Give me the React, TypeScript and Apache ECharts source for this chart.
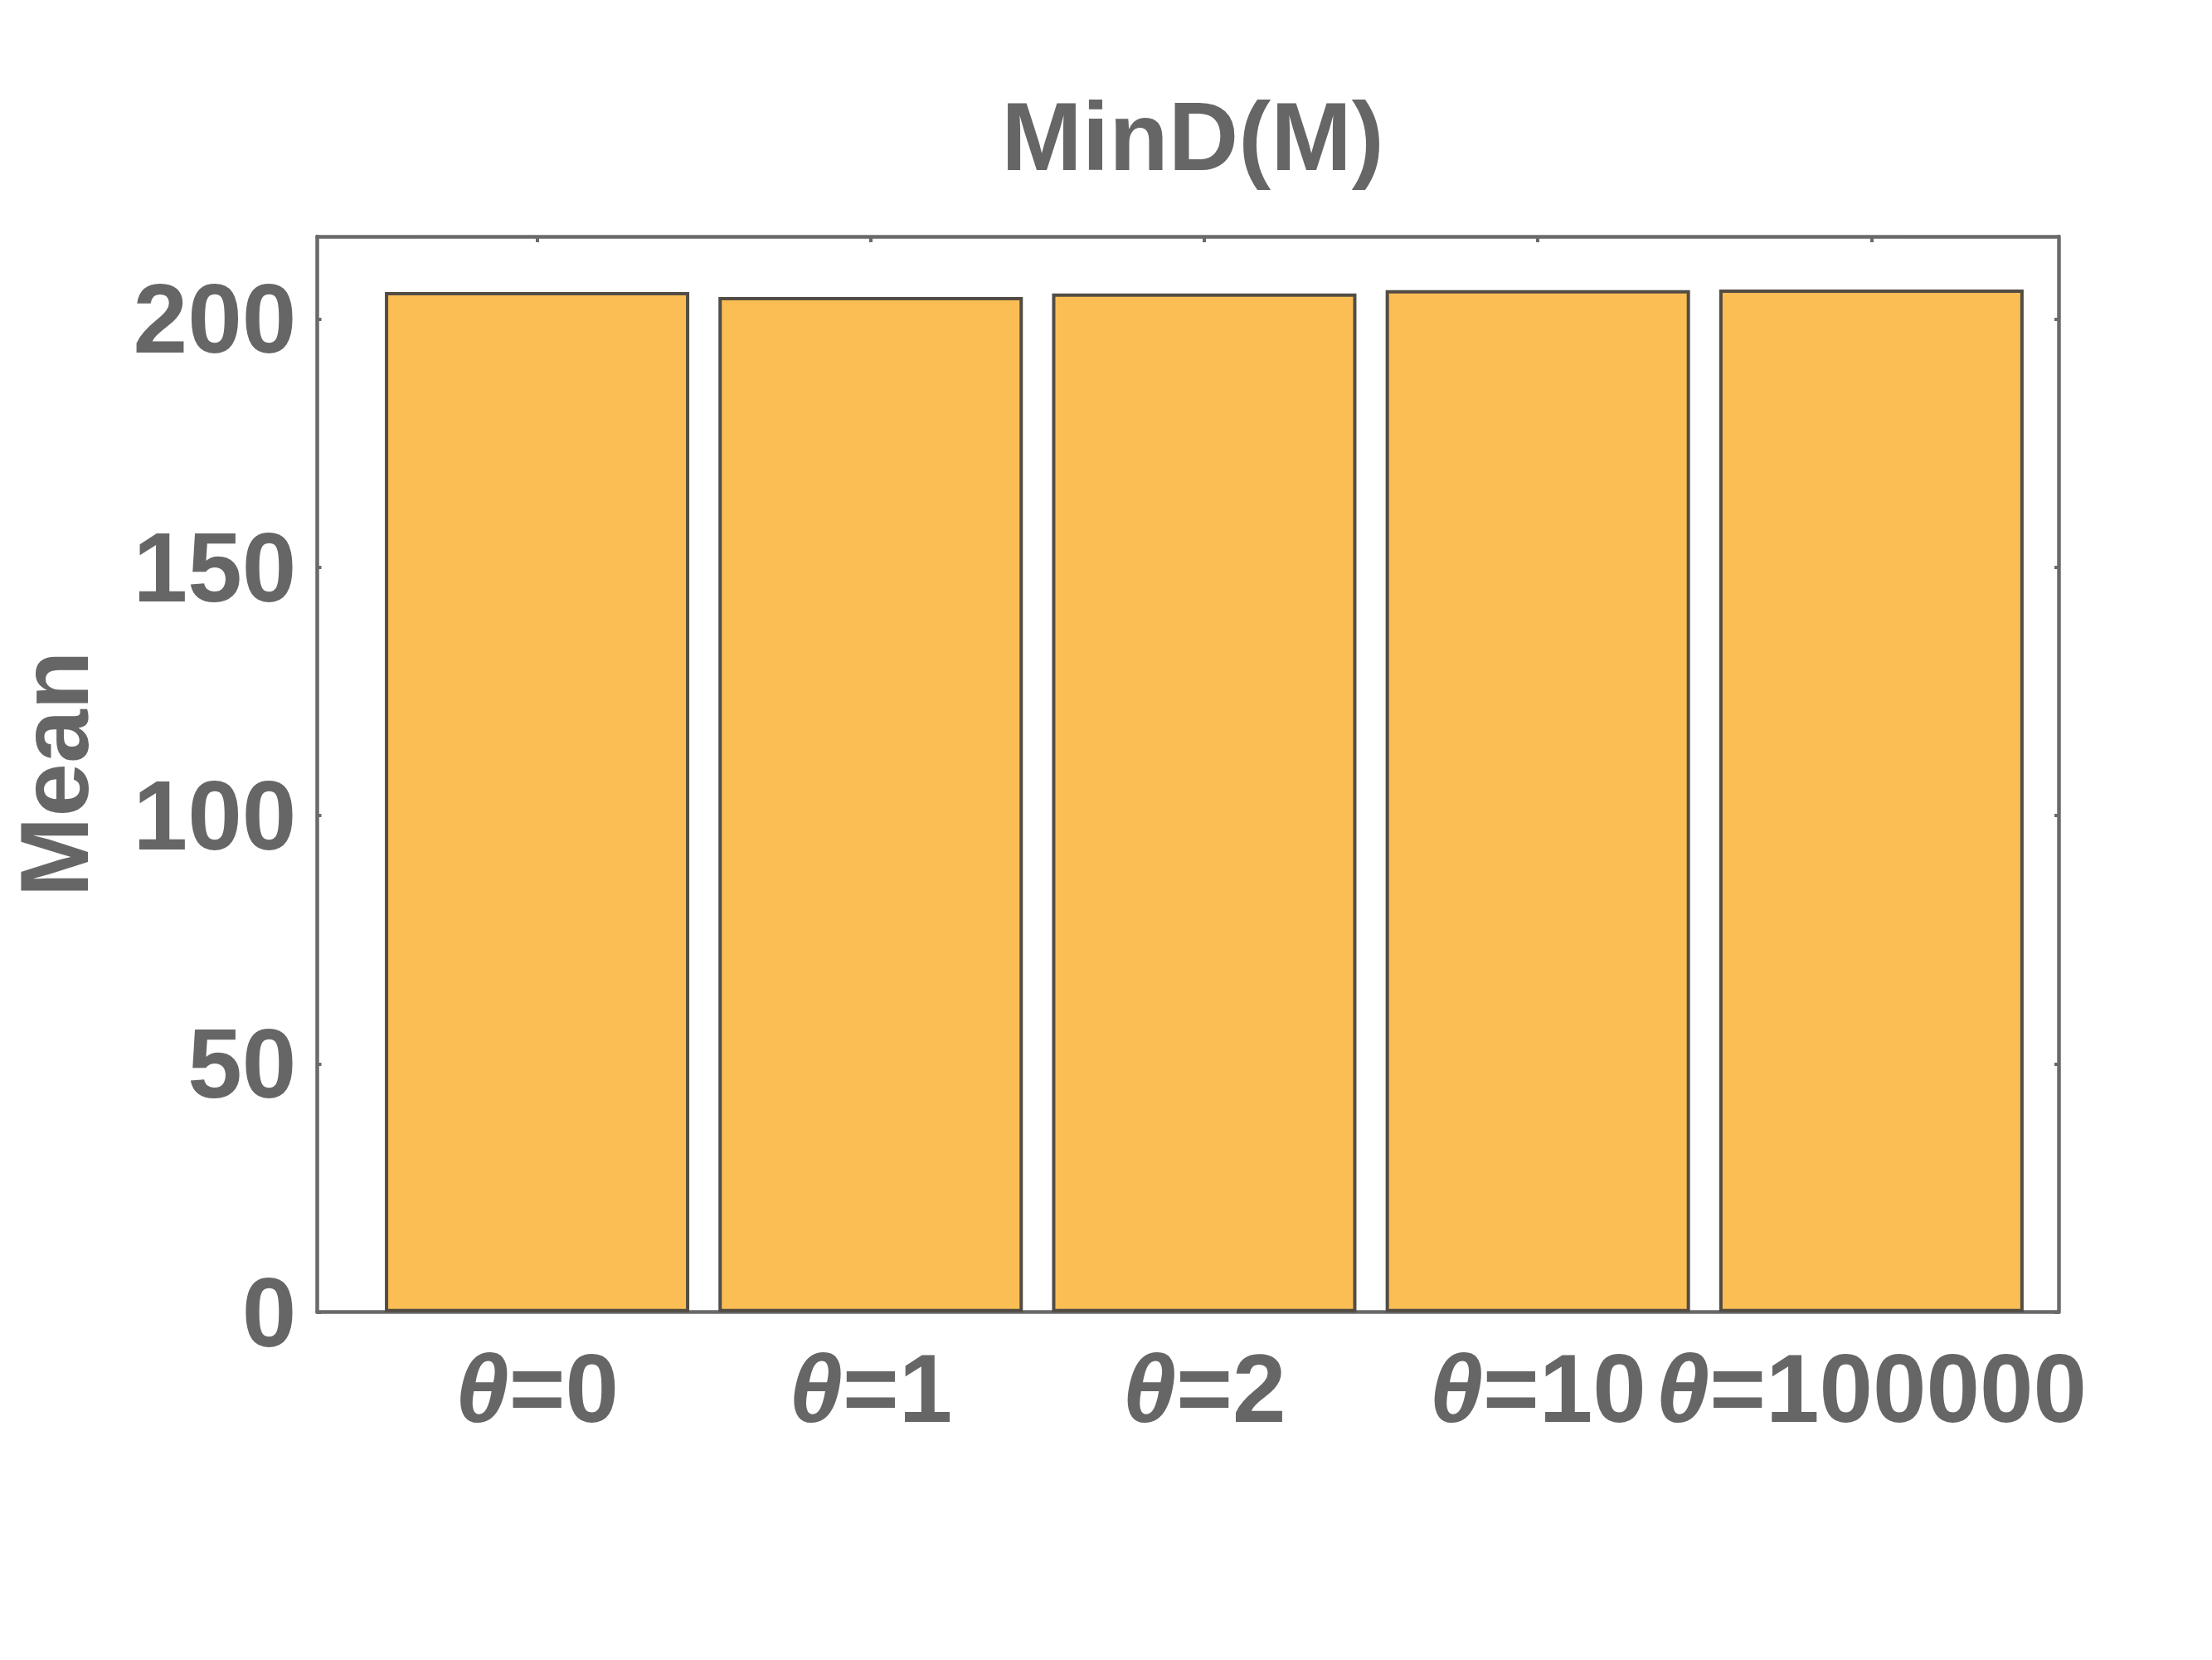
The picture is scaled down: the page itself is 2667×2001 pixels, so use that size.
import React, { useEffect, useRef } from "react";
import * as echarts from "echarts";

const thetaValues = ["0", "1", "2", "10", "100000"];
const categories = thetaValues.map((v) => `θ=${v}`);
const positions = [1, 2, 3, 4, 5];
const meanValues = [205.4, 204.4, 205.1, 205.8, 205.9];
const yTicks = [0, 50, 100, 150, 200];
const titleText = "MinD(M)";
const yName = "Mean";

const FONT = "Arial, Liberation Sans, Helvetica, sans-serif";
const TXT = "#666666";
const FRAME = "#6a6a6a";

export default function App() {
  const ref = useRef<HTMLDivElement>(null);
  useEffect(() => {
    if (!ref.current) return;
    const chart = echarts.init(ref.current, undefined, { renderer: "svg" });
    const xMin = 0.341;
    const xMax = 5.561;
    const yMax = 216.6;
    const axisLine = { show: true, onZero: false, lineStyle: { color: FRAME, width: 4.5 } };
    chart.setOption({
      animation: false,
      backgroundColor: "#ffffff",
      title: {
        text: titleText,
        left: 1438,
        top: 106,
        textAlign: "center",
        padding: 0,
        textStyle: {
          fontFamily: FONT,
          fontWeight: "bold",
          fontSize: 117,
          color: TXT,
          lineHeight: 117,
        },
      },
      graphic: [
        {
          type: "text",
          x: 66,
          y: 933,
          rotation: Math.PI / 2,
          style: {
            text: yName,
            fontFamily: FONT,
            fontWeight: "bold",
            fontSize: 116,
            fill: TXT,
            align: "center",
            verticalAlign: "middle",
          },
        },
      ],
      grid: { left: 382.5, top: 285, width: 2099.5, height: 1296.7, containLabel: false },
      xAxis: [
        {
          type: "value",
          position: "bottom",
          min: xMin,
          max: xMax,
          axisLine,
          splitLine: { show: false },
          axisTick: {
            show: true,
            inside: true,
            length: 7,
            customValues: positions,
            lineStyle: { color: FRAME, width: 4 },
          },
          axisLabel: {
            show: true,
            customValues: positions,
            margin: 34,
            formatter: (v: number) => {
              const i = Math.round(v) - 1;
              return `{t|θ}{n|=${thetaValues[i]}}`;
            },
            rich: {
              t: {
                fontFamily: FONT,
                fontWeight: "bold",
                fontStyle: "italic",
                fontSize: 116,
                color: TXT,
                lineHeight: 116,
              },
              n: {
                fontFamily: FONT,
                fontWeight: "bold",
                fontSize: 116,
                color: TXT,
                lineHeight: 116,
              },
            },
          },
        },
        {
          type: "value",
          position: "top",
          min: xMin,
          max: xMax,
          axisLine,
          splitLine: { show: false },
          axisTick: {
            show: true,
            inside: true,
            length: 7,
            customValues: positions,
            lineStyle: { color: FRAME, width: 4 },
          },
          axisLabel: { show: false },
        },
      ],
      yAxis: [
        {
          type: "value",
          position: "left",
          min: 0,
          max: yMax,
          axisLine,
          splitLine: { show: false },
          axisTick: {
            show: true,
            inside: true,
            length: 5,
            customValues: yTicks,
            lineStyle: { color: FRAME, width: 4 },
          },
          axisLabel: {
            show: true,
            customValues: yTicks,
            margin: 25,
            fontFamily: FONT,
            fontWeight: "bold",
            fontSize: 118,
            color: TXT,
          },
        },
        {
          type: "value",
          position: "right",
          min: 0,
          max: yMax,
          axisLine,
          splitLine: { show: false },
          axisTick: {
            show: true,
            inside: true,
            length: 5,
            customValues: yTicks,
            lineStyle: { color: FRAME, width: 4 },
          },
          axisLabel: { show: false },
        },
      ],
      series: [
        {
          type: "bar",
          name: yName,
          xAxisIndex: 0,
          yAxisIndex: 0,
          barWidth: 367,
          data: positions.map((p, i) => ({ value: [p, meanValues[i]], name: categories[i] })),
          itemStyle: {
            color: "#FABE55",
            borderColor: "#524c44",
            borderWidth: 4,
          },
        },
      ],
    });
    return () => chart.dispose();
  }, []);
  return (
    <div
      ref={ref}
      style={{ position: "fixed", left: 0, top: 0, width: 2667, height: 2001, background: "#fff" }}
    />
  );
}
